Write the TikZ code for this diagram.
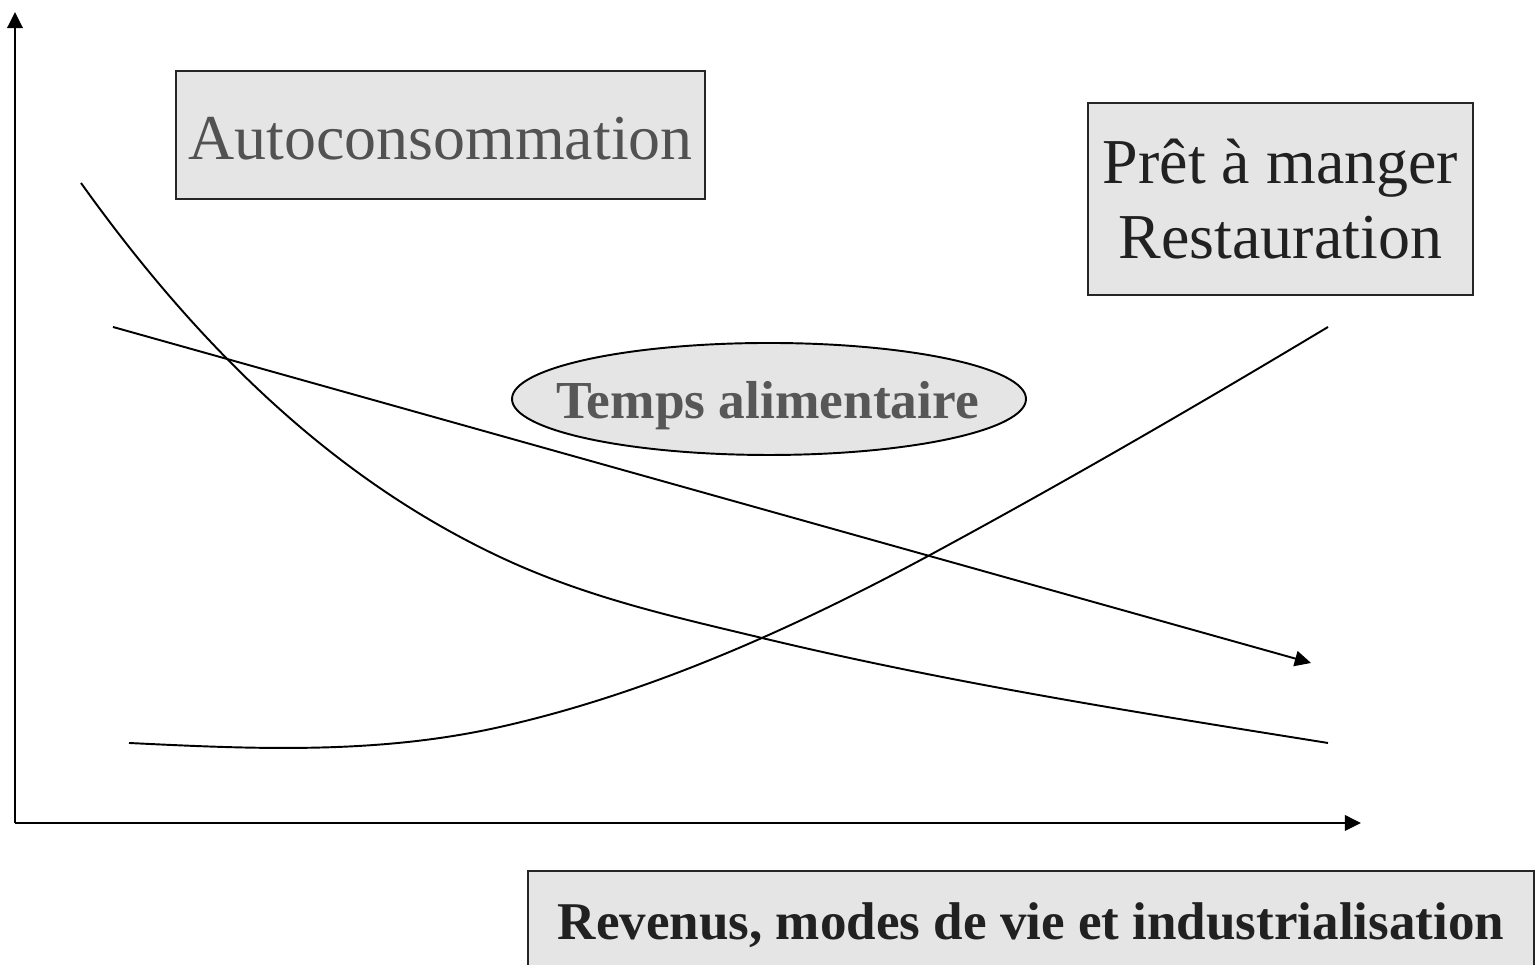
\documentclass[tikz,border=0pt]{standalone}
\usepackage{fontspec}
\setmainfont{Liberation Serif}
\usepackage{tikz}
\usetikzlibrary{arrows.meta,shapes.geometric}

\tikzset{
  tip/.style={-{Triangle[length=4.6pt,width=4.4pt]}},
  graybox/.style={draw=black!85,line width=0.75pt,fill=black!10,inner sep=0pt},
  curve/.style={line width=0.55pt}
}

\begin{document}
\begin{tikzpicture}
				% page size of the slide
				\useasboundingbox (0,0) rectangle (15.35,9.65);
				\clip (0,0) rectangle (15.35,9.65);
				
				% origin and ends of the axes
				\coordinate (O) at (0.15,1.42);
				\coordinate (ytop) at (0.15,9.53);
				\coordinate (xend) at (13.61,1.42);
				
				% Add axes
				\draw[tip,line width=0.7pt] (O) -- (ytop);
				\draw[tip,line width=0.7pt] (O) -- (xend);
				
				% decreasing curve (autoconsommation)
				\draw[curve] (0.81,7.82) .. controls (2.207,5.864) and (3.603,4.737) .. (5.00,4.08)
				  .. controls (5.873,3.67) and (6.747,3.48) .. (7.62,3.27)
				  .. controls (9.507,2.817) and (11.393,2.522) .. (13.28,2.22);
				
				% rising curve (pret a manger)
				\draw[curve] (1.29,2.22) .. controls (2.527,2.16) and (3.763,2.102) .. (5.00,2.38)
				  .. controls (6.433,2.702) and (7.867,3.326) .. (9.30,4.10)
				  .. controls (10.627,4.817) and (11.953,5.584) .. (13.28,6.38);
				
				% straight line with arrow (temps alimentaire)
				\coordinate (tstart) at (1.13,6.38);
				\coordinate (tend) at (13.11,3.02);
				\draw[tip,curve] (tstart) -- (tend);
				
				% labels
				\node[graybox,minimum width=5.29cm,minimum height=1.28cm,text=black!68,text height=0.5cm,text depth=0cm,font=\fontsize{18.2}{21.6}\selectfont] (auto) at (4.405,8.30) {Autoconsommation};
				\node[graybox,minimum width=3.85cm,minimum height=1.92cm,text=black!87,align=center,font=\fontsize{18.2}{21.3}\selectfont] (pret) at (12.805,7.66) {Prêt à manger\\Restauration};
				\coordinate (tc) at (7.69,5.66);
				\filldraw[fill=black!10,draw=black,curve] (tc) ellipse [x radius=2.57cm,y radius=0.56cm];
				\node[anchor=base,text=black!66,inner sep=0pt,font=\fontsize{15.2}{18}\selectfont\bfseries] (temps) at (7.675,5.46) {Temps alimentaire};
				\node[graybox,minimum width=10.06cm,minimum height=1.08cm,text=black!87,font=\fontsize{15.1}{18}\selectfont\bfseries] (rev) at (10.31,0.40) {Revenus, modes de vie et industrialisation};
				
				\end{tikzpicture}
\end{document}
